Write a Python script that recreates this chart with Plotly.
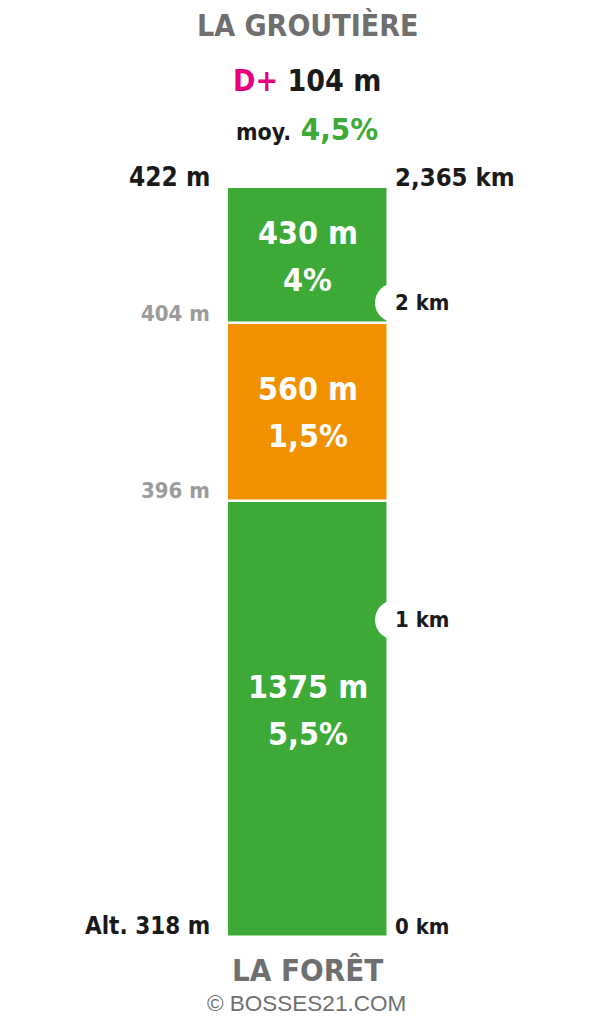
import plotly.graph_objects as go

# ---- data ----
segment_lengths_m = [1375, 560, 430]          # bottom -> top
segment_grades = ["5,5%", "1,5%", "4%"]
segment_colors = ["#3DAA37", "#F29100", "#3DAA37"]
boundary_altitudes = [318, 396, 404, 422]     # at start of each segment + summit
km_marks = [1, 2]
total_km = 2.365
title_top = "LA GROUTIÈRE"
title_bottom = "LA FORÊT"
d_plus = "104 m"
avg_grade = "4,5%"
credit = "© BOSSES21.COM"

# ---- layout helpers ----
W, H = 600, 1024
BAR_TOP_PX, BAR_BOT_PX = 187, 937
PX_PER_KM = (BAR_BOT_PX - BAR_TOP_PX) / total_km
y_min = -(H - BAR_BOT_PX) / PX_PER_KM
y_max = BAR_BOT_PX / PX_PER_KM
BAR_LEFT_PX, BAR_RIGHT_PX = 227, 388
bw = BAR_RIGHT_PX - BAR_LEFT_PX
x_min = -0.5 - BAR_LEFT_PX / bw
x_max = 0.5 + (W - BAR_RIGHT_PX) / bw
LABEL_DY = [8, 0, -1]      # vertical nudge (px, up) of the in-bar label blocks
LINE_GAP = 47              # px between the two lines of in-bar labels

FONT = "DejaVu Sans Condensed, sans-serif"
BLACK = "#1a1a1a"
GREY = "#6f6f6f"
LGREY = "#9b9b9b"
MAGENTA = "#E5007D"
GREEN = "#3DAA37"

seg_km = [m / 1000 for m in segment_lengths_m]
bases = [sum(seg_km[:i]) for i in range(len(seg_km))]
bounds_km = bases + [total_km]

fig = go.Figure()
for i, (L, b, c) in enumerate(zip(seg_km, bases, segment_colors)):
    fig.add_trace(go.Bar(
        x=[0], y=[L], base=[b], width=[1], marker_color=c,
        marker_line=dict(color="white", width=2.5),
        hoverinfo="skip", showlegend=False))

# notches
fig.add_trace(go.Scatter(
    x=[0.5 + 6.5 / bw] * len(km_marks), y=km_marks, mode="markers",
    marker=dict(size=39, color="white", line=dict(width=0)),
    hoverinfo="skip", showlegend=False, cliponaxis=False))

ann = []
def A(text, x, y, size, color, xanchor="center", xref="paper", yref="y", yshift=0, family=FONT, bold=True):
    t = f"<b>{text}</b>" if bold else text
    ann.append(dict(text=t, x=x, y=y, xref=xref, yref=yref, xanchor=xanchor,
                    yanchor="middle", yshift=yshift, showarrow=False,
                    font=dict(family=family, size=size, color=color)))

cx = (BAR_LEFT_PX + BAR_RIGHT_PX) / 2 / W
# segment labels
for L, b, g, m, dy in zip(seg_km, bases, segment_grades, segment_lengths_m, LABEL_DY):
    mid = b + L / 2
    A(f"{m} m", cx, mid, 32, "white", yshift=dy + LINE_GAP / 2)
    A(g, cx, mid, 32, "white", yshift=dy - LINE_GAP / 2)

# altitude labels (left)
left_x = 212 / W
for i, (alt, km) in enumerate(zip(boundary_altitudes, bounds_km)):
    if i == 0:
        A(f"Alt. {alt} m", left_x, km, 24, BLACK, xanchor="right", yshift=11)
    elif i == len(boundary_altitudes) - 1:
        A(f"{alt} m", left_x, km, 26, BLACK, xanchor="right", yshift=10)
    else:
        A(f"{alt} m", left_x, km, 22, LGREY, xanchor="right", yshift=10)

# km labels (right)
right_x = 393 / W
A("0 km", right_x, 0, 22, BLACK, xanchor="left", yshift=11)
for k in km_marks:
    A(f"{k} km", right_x, k, 22, BLACK, xanchor="left")
A(f"{total_km:.3f}".replace(".", ",") + " km", right_x, total_km, 25.5, BLACK, xanchor="left", yshift=10)

# titles
tx = 307 / W
A(title_top, tx, 1 - 25 / H, 30, GREY, yref="paper")
A(f"<span style='color:{MAGENTA}'>D+</span> {d_plus}", tx, 1 - 80 / H, 30, BLACK, yref="paper")
A(f"<span style='font-size:23px'>moy.</span> <span style='color:{GREEN}'>{avg_grade}</span>",
  tx, 1 - 129 / H, 31, BLACK, yref="paper")
A(title_bottom, tx, 1 - 970 / H, 31, GREY, yref="paper")
A(credit, 306 / W, 1 - 1003 / H, 22.5, GREY, yref="paper", family="Liberation Sans, Arial, sans-serif", bold=False)

fig.update_layout(
    width=W, height=H, margin=dict(l=0, r=0, t=0, b=0),
    paper_bgcolor="white", plot_bgcolor="white",
    xaxis=dict(range=[x_min, x_max], visible=False, fixedrange=True),
    yaxis=dict(range=[y_min, y_max], visible=False, fixedrange=True),
    barmode="overlay", bargap=0, annotations=ann, showlegend=False,
)
fig.write_html("out.html", config={"displayModeBar": False},
               post_script="document.body.style.margin='0';document.body.style.overflow='hidden';")
